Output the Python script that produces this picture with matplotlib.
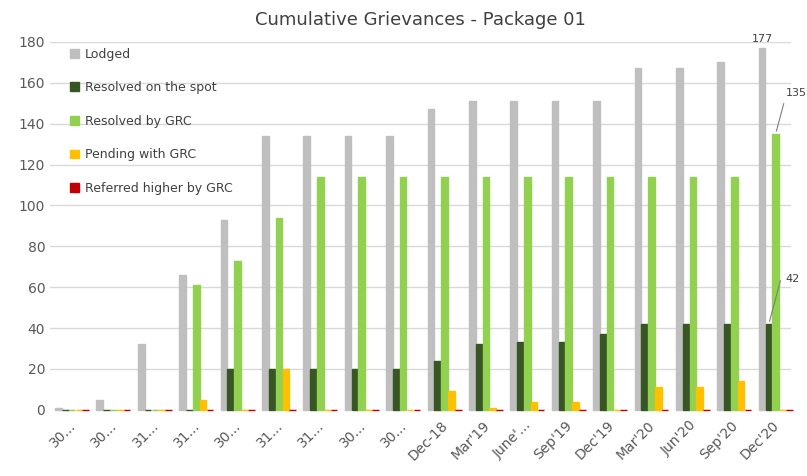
import matplotlib.pyplot as plt
import numpy as np

periods = ['30...', '30...', '31...', '31...', '30...', '31...', '31...', '30...', '30...',
           'Dec-18', "Mar'19", "June'...", "Sep'19", "Dec'19", "Mar'20", "Jun'20", "Sep'20", "Dec'20"]

lodged = [1, 5, 32, 66, 93, 134, 134, 134, 134, 147, 151, 151, 151, 151, 167, 167, 170, 177]
on_spot = [0, 0, 0, 0, 20, 20, 20, 20, 20, 24, 32, 33, 33, 37, 42, 42, 42, 42]
by_grc = [0, 0, 0, 61, 73, 94, 114, 114, 114, 114, 114, 114, 114, 114, 114, 114, 114, 135]
pending = [0, 0, 0, 5, 0, 20, 0, 0, 0, 9, 1, 4, 4, 0, 11, 11, 14, 0]
referred = [0] * 18

series = [
    ('Lodged', lodged, '#BFBFBF'),
    ('Resolved on the spot', on_spot, '#375623'),
    ('Resolved by GRC', by_grc, '#92D050'),
    ('Pending with GRC', pending, '#FFC000'),
    ('Referred higher by GRC', referred, '#C00000'),
]

fig = plt.figure(figsize=(8.07, 4.76), dpi=100)
ax = fig.add_axes([0.062, 0.139, 0.918, 0.773])

x = np.arange(len(periods))
w = 0.165
for i, (name, vals, col) in enumerate(series):
    ax.bar(x + (i - 1.5) * w, vals, width=w * 0.97, color=col, edgecolor=col,
           linewidth=1.0, label=name, zorder=3, clip_on=False)

ax.set_ylim(0, 180)
ax.set_xlim(-0.45, len(periods) - 0.55)
ax.set_yticks(range(0, 181, 20))
ax.set_xticks(x)
ax.set_xticklabels(periods, rotation=45, ha='right', rotation_mode='anchor')
ax.grid(axis='y', color='#D9D9D9', linewidth=1, zorder=0)
ax.tick_params(axis='both', length=0, colors='#595959', labelsize=10)
ax.tick_params(axis='x', pad=6)
for s in ax.spines.values():
    s.set_visible(False)

ax.set_title('Cumulative Grievances - Package 01', fontsize=13, color='#404040', pad=12)

leg = ax.legend(loc='upper left', bbox_to_anchor=(0.012, 1.015), frameon=False,
                handlelength=0.7, handleheight=0.7, handletextpad=0.5,
                labelspacing=1.65, fontsize=9)
for t in leg.get_texts():
    t.set_color('#404040')

last = len(periods) - 1
ax.text(last - 1.5 * w, lodged[-1] + 2, str(lodged[-1]), ha='center', va='bottom',
        fontsize=8, color='#404040')
ax.annotate(str(by_grc[-1]), xy=(last + 0.5 * w, by_grc[-1]), xytext=(last + 0.32, 155),
            fontsize=8, color='#404040', va='center', annotation_clip=False,
            arrowprops=dict(arrowstyle='-', color='#7F7F7F', lw=0.8,
                            connectionstyle='angle,angleA=0,angleB=75,rad=0'))
ax.annotate(str(on_spot[-1]), xy=(last - 0.5 * w, on_spot[-1]), xytext=(last + 0.32, 64),
            fontsize=8, color='#404040', va='center', annotation_clip=False,
            arrowprops=dict(arrowstyle='-', color='#7F7F7F', lw=0.8,
                            connectionstyle='angle,angleA=0,angleB=75,rad=0'))

fig.savefig('out.png', dpi=100)
